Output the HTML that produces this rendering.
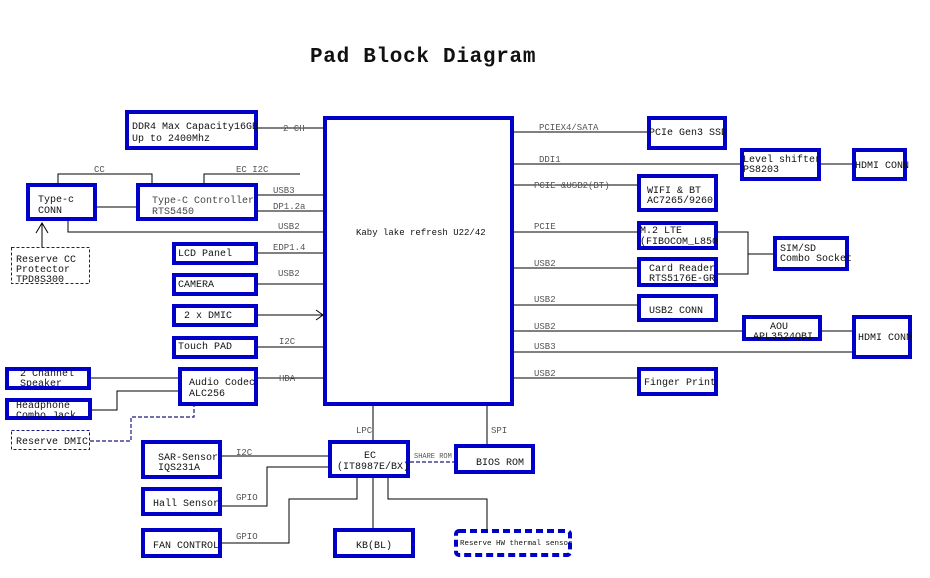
<!DOCTYPE html>
<html><head><meta charset="utf-8"><style>
html,body{margin:0;padding:0;background:#fff;}
svg{display:block;}
text{font-family:"Liberation Mono",monospace;}
.b{fill:#fff;stroke:#0000c8;stroke-width:4;}
.d{fill:#fff;stroke:#1a1a80;stroke-width:1;stroke-dasharray:3,2;}
.l{stroke:#000;stroke-width:1;fill:none;}
.ld{stroke:#1a1a80;stroke-width:1.2;fill:none;stroke-dasharray:4,2;}
.t{font-size:10px;fill:#111;}
.g{font-size:9px;fill:#555;}
</style></head><body>
<svg width="930" height="578" xmlns="http://www.w3.org/2000/svg">
<text x="310" y="62" style="font-size:21px;font-weight:bold;fill:#111;letter-spacing:0.7px">Pad  Block Diagram</text>

<!-- lines -->
<g class="l">
<path d="M258 128H323"/>
<path d="M58 183V174H152V183"/>
<path d="M204 183V174H300"/>
<path d="M97 207H136"/>
<path d="M258 195H323M258 211H323"/>
<path d="M68 221V232H323"/>
<path d="M258 253H323M258 284H323M258 315H323M258 347H323M258 378H323"/>
<path d="M316 310L323 315L316 320"/>
<path d="M42 247V223M36 233L42 223L48 233"/>
<path d="M91 378H178"/>
<path d="M92 410H117V391H178"/>
<path d="M513 132H647M513 164H740M821 164H852M513 185H637M513 232H637M513 268H637"/>
<path d="M718 232H748V274H718M748 254H773"/>
<path d="M513 305H637M513 331H742M822 331H852M513 352H852M513 378H637"/>
<path d="M373 405V440M487 405V444"/>
<path d="M222 456H328"/>
<path d="M222 506H267V467H328"/>
<path d="M222 543H289V499H357V477"/>
<path d="M373 477V528"/>
<path d="M388 477V499H487V529"/>
</g>
<g class="ld">
<path d="M90 441H131V417H194V405"/>
<path d="M410 462H454"/>
</g>

<!-- boxes -->
<rect class="b" x="127" y="112" width="129" height="36"/>
<rect class="b" x="325" y="118" width="187" height="286"/>
<rect class="b" x="28" y="185" width="67" height="34"/>
<rect class="b" x="138" y="185" width="118" height="34"/>
<rect class="d" x="11.5" y="247.5" width="78" height="36"/>
<rect class="b" x="174" y="244" width="82" height="19"/>
<rect class="b" x="174" y="275" width="82" height="19"/>
<rect class="b" x="174" y="306" width="82" height="19"/>
<rect class="b" x="174" y="338" width="82" height="19"/>
<rect class="b" x="180" y="369" width="76" height="35"/>
<rect class="b" x="7" y="369" width="82" height="19"/>
<rect class="b" x="7" y="400" width="83" height="18"/>
<rect class="d" x="11.5" y="430.5" width="78" height="19"/>
<rect class="b" x="143" y="442" width="77" height="35"/>
<rect class="b" x="143" y="489" width="77" height="25"/>
<rect class="b" x="143" y="530" width="77" height="26"/>
<rect class="b" x="330" y="442" width="78" height="34"/>
<rect class="b" x="456" y="446" width="77" height="26"/>
<rect class="b" x="335" y="530" width="78" height="26"/>
<rect x="456" y="531" width="114" height="24" rx="3" style="fill:#fff;stroke:#0000c8;stroke-width:4;stroke-dasharray:7,4"/>
<rect class="b" x="649" y="118" width="76" height="30"/>
<rect class="b" x="742" y="150" width="77" height="29"/>
<rect class="b" x="854" y="150" width="51" height="29"/>
<rect class="b" x="639" y="176" width="77" height="34"/>
<rect class="b" x="639" y="223" width="77" height="25"/>
<rect class="b" x="639" y="259" width="77" height="26"/>
<rect class="b" x="775" y="238" width="72" height="31"/>
<rect class="b" x="639" y="296" width="77" height="24"/>
<rect class="b" x="744" y="317" width="76" height="22"/>
<rect class="b" x="854" y="317" width="56" height="40"/>
<rect class="b" x="639" y="369" width="77" height="25"/>

<!-- box text -->
<g class="t">
<text x="132" y="129">DDR4  Max Capacity16GB</text>
<text x="132" y="141">Up to 2400Mhz</text>
<text x="356" y="235" style="font-size:9px">Kaby lake refresh U22/42</text>
<text x="38" y="202">Type-c</text><text x="38" y="213">CONN</text>
<text x="152" y="203" style="fill:#444">Type-C Controller</text><text x="152" y="214" style="fill:#444">RTS5450</text>
<text x="16" y="262">Reserve CC</text><text x="16" y="272">Protector</text><text x="16" y="282">TPD8S300</text>
<text x="178" y="256">LCD  Panel</text>
<text x="178" y="287">CAMERA</text>
<text x="184" y="318">2  x DMIC</text>
<text x="178" y="349">Touch PAD</text>
<text x="189" y="385">Audio Codec</text><text x="189" y="396">ALC256</text>
<text x="20" y="376">2 Channel</text><text x="20" y="386">Speaker</text>
<text x="16" y="408">Headphone</text><text x="16" y="418">Combo Jack</text>
<text x="16" y="444">Reserve DMIC</text>
<text x="158" y="460">SAR-Sensor</text><text x="158" y="470">IQS231A</text>
<text x="153" y="506">Hall Sensor</text>
<text x="153" y="548">FAN CONTROL</text>
<text x="364" y="458">EC</text><text x="337" y="469">(IT8987E/BX)</text>
<text x="476" y="465">BIOS ROM</text>
<text x="356" y="548">KB(BL)</text>
<text x="460" y="545" style="font-size:7.5px">Reserve HW thermal sensor</text>
<text x="649" y="135">PCIe Gen3 SSD</text>
<text x="743" y="162">Level shifter</text><text x="743" y="172">PS8203</text>
<text x="855" y="168">HDMI CONN</text>
<text x="647" y="193">WIFI &amp; BT</text><text x="647" y="203">AC7265/9260</text>
<text x="640" y="233">M.2 LTE</text><text x="640" y="244">(FIBOCOM_L850</text>
<text x="649" y="271">Card Reader</text><text x="649" y="281">RTS5176E-GR</text>
<text x="780" y="251">SIM/SD</text><text x="780" y="261">Combo Socket</text>
<text x="649" y="313">USB2 CONN</text>
<text x="770" y="329">AOU</text><text x="753" y="339">APL3524QBI</text>
<text x="858" y="340">HDMI CONN</text>
<text x="644" y="385">Finger Print</text>
</g>
<!-- connector labels -->
<g class="g">
<text x="283" y="131">2 CH</text>
<text x="94" y="172">CC</text>
<text x="236" y="172">EC I2C</text>
<text x="273" y="193">USB3</text>
<text x="273" y="209">DP1.2a</text>
<text x="278" y="229">USB2</text>
<text x="273" y="250">EDP1.4</text>
<text x="278" y="276">USB2</text>
<text x="279" y="344">I2C</text>
<text x="279" y="381">HDA</text>
<text x="356" y="433">LPC</text>
<text x="491" y="433">SPI</text>
<text x="414" y="458" style="font-size:7px">SHARE ROM</text>
<text x="236" y="455">I2C</text>
<text x="236" y="500">GPIO</text>
<text x="236" y="539">GPIO</text>
<text x="539" y="130">PCIEX4/SATA</text>
<text x="539" y="162">DDI1</text>
<text x="534" y="188">PCIE &amp;USB2(BT)</text>
<text x="534" y="229">PCIE</text>
<text x="534" y="266">USB2</text>
<text x="534" y="302">USB2</text>
<text x="534" y="329">USB2</text>
<text x="534" y="349">USB3</text>
<text x="534" y="376">USB2</text>
</g>
</svg>
</body></html>
